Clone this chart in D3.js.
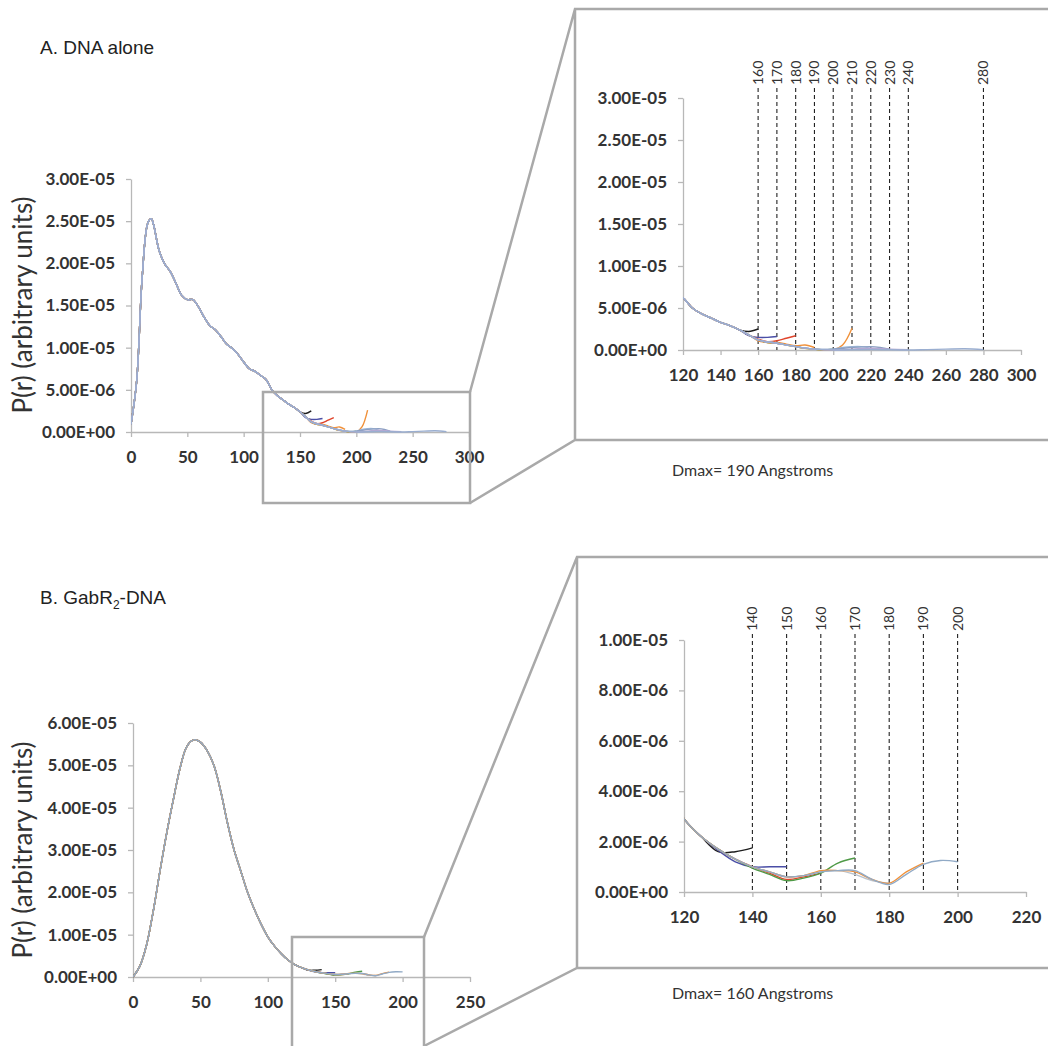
<!DOCTYPE html>
<html>
<head>
<meta charset="utf-8">
<script src="https://cdn.jsdelivr.net/npm/d3@7"></script>
<style>
  html, body { margin: 0; padding: 0; background: #fff; }
  svg { display: block; }
  .tick text { font-family: Lato, "Open Sans", sans-serif; font-weight: 700; fill: #333; }
</style>
</head>
<body>
<svg id="fig" width="1048" height="1046"></svg>
<script>
// ---------- Panel A: DNA alone ----------
// Shared P(r) profile (units of 1e-6) for r = 0..150 Å
const rA = [0, 5, 10, 15, 18, 20, 25, 30, 35, 40, 45, 50, 55, 60, 65, 70, 75, 80, 85, 90, 95, 100, 105, 110, 115, 120, 125, 130, 135, 140, 145, 150];
const pA = [0.9, 6.0, 18.5, 24.8, 25.3, 24.6, 21.5, 19.9, 19.0, 17.6, 16.2, 15.7, 15.7, 14.8, 13.6, 12.6, 12.1, 11.3, 10.4, 9.9, 9.2, 8.3, 7.5, 7.2, 6.7, 6.2, 5.0, 4.3, 3.8, 3.3, 2.9, 2.4];

// Tails of each fit beyond 150 Å, keyed by Dmax
const dmaxA = [160, 170, 180, 190, 200, 210, 220, 230, 240, 280];
const colorsA = ["#1e1e1e", "#4a4ea6", "#e0452c", "#f0913a", "#5f9e4c", "#f0913a", "#9fb9da", "#8b9fc2", "#b3a9d3", "#9aaed0"];
const tailRA = [
  [155, 160],
  [155, 160, 165, 170],
  [155, 160, 165, 170, 175, 180],
  [155, 160, 165, 170, 175, 180, 185, 190],
  [155, 160, 165, 170, 175, 180, 185, 190, 195, 200],
  [155, 160, 165, 170, 175, 180, 185, 190, 195, 200, 205, 210],
  [155, 160, 170, 180, 190, 200, 205, 210, 215, 220],
  [155, 160, 170, 180, 190, 200, 210, 220, 225, 230],
  [155, 160, 170, 180, 190, 200, 210, 220, 230, 240],
  [155, 160, 170, 180, 190, 200, 220, 240, 250, 260, 270, 280]
];
const tailPA = [
  [2.2, 2.5],
  [1.7, 1.5, 1.5, 1.6],
  [1.8, 1.3, 1.0, 1.1, 1.4, 1.7],
  [1.8, 1.1, 0.9, 0.9, 0.7, 0.5, 0.6, 0.3],
  [1.8, 1.2, 0.9, 0.8, 0.6, 0.4, 0.2, 0.1, 0.0, 0.1],
  [1.8, 1.2, 0.9, 0.8, 0.6, 0.4, 0.2, 0.1, 0.0, 0.0, 0.6, 2.6],
  [1.8, 1.2, 0.8, 0.4, 0.1, 0.1, 0.3, 0.4, 0.4, 0.2],
  [1.8, 1.2, 0.8, 0.4, 0.1, 0.1, 0.3, 0.4, 0.3, 0.1],
  [1.8, 1.2, 0.8, 0.4, 0.1, 0.0, 0.1, 0.2, 0.1, 0.05],
  [1.8, 1.2, 0.8, 0.4, 0.1, 0.0, 0.05, 0.0, 0.05, 0.1, 0.15, 0.05]
];
const yTicksA = [0, 5e-6, 1e-5, 1.5e-5, 2e-5, 2.5e-5, 3e-5];
const xTicksA = [0, 50, 100, 150, 200, 250, 300];
const xTicksAZoom = [120, 140, 160, 180, 200, 220, 240, 260, 280, 300];

// ---------- Panel B: GabR2-DNA ----------
const rB = [0, 5, 10, 15, 20, 25, 30, 35, 40, 45, 50, 55, 60, 65, 70, 75, 80, 85, 90, 95, 100, 105, 110, 115, 120, 125];
const pB = [0, 2.5, 7.5, 15.5, 25.0, 34.0, 42.0, 49.5, 54.5, 56.0, 55.5, 53.5, 50.0, 44.0, 36.5, 30.0, 25.0, 20.0, 16.0, 12.5, 9.5, 7.3, 5.5, 4.0, 2.9, 2.2];
const dmaxB = [140, 150, 160, 170, 180, 190, 200];
const colorsB = ["#1e1e1e", "#4a4ea6", "#e0452c", "#4f9a47", "#b9c3cf", "#f0913a", "#91aac6"];
const tailRB = [
  [130, 135, 140],
  [130, 135, 140, 145, 150],
  [130, 135, 140, 145, 150, 155, 160],
  [130, 135, 140, 145, 150, 155, 160, 165, 170],
  [130, 135, 140, 145, 150, 155, 160, 165, 170, 175, 180],
  [130, 135, 140, 145, 150, 155, 160, 165, 170, 175, 180, 185, 190],
  [130, 135, 140, 145, 150, 155, 160, 165, 170, 175, 180, 185, 190, 195, 200]
];
const tailPB = [
  [1.6, 1.6, 1.75],
  [1.65, 1.2, 1.0, 1.0, 1.0],
  [1.7, 1.3, 1.0, 0.75, 0.5, 0.6, 0.75],
  [1.7, 1.3, 0.95, 0.7, 0.45, 0.55, 0.75, 1.15, 1.35],
  [1.7, 1.3, 1.0, 0.8, 0.6, 0.65, 0.8, 0.85, 0.7, 0.45, 0.35],
  [1.7, 1.3, 1.0, 0.8, 0.6, 0.65, 0.85, 0.85, 0.8, 0.5, 0.35, 0.8, 1.15],
  [1.7, 1.3, 1.0, 0.8, 0.6, 0.65, 0.8, 0.85, 0.85, 0.5, 0.3, 0.7, 1.1, 1.25, 1.2]
];
const yTicksB = [0, 1e-5, 2e-5, 3e-5, 4e-5, 5e-5, 6e-5];
const xTicksB = [0, 50, 100, 150, 200, 250];
const yTicksBZoom = [0, 2e-6, 4e-6, 6e-6, 8e-6, 1e-5];
const xTicksBZoom = [120, 140, 160, 180, 200, 220];

const svg = d3.select("#fig");
const FRAME = "#a9a9a9";
const AXIS = "#b8b8b8";
const FONT = "Lato, 'Open Sans', sans-serif";
const fmtE = v => {
  if (v === 0) return "0.00E+00";
  const e = Math.floor(Math.log10(v) + 1e-9);
  const m = v / Math.pow(10, e);
  return m.toFixed(2) + "E" + (e < 0 ? "-" : "+") + String(Math.abs(e)).padStart(2, "0");
};

// Build every fitted series from the shared profile plus its own tail
function buildSeries(r, p, tailsR, tailsP) {
  return tailsR.map((tr, i) => {
    const pts = r.map((x, j) => ({ r: x, p: p[j] * 1e-6 }));
    tr.forEach((x, j) => pts.push({ r: x, p: tailsP[i][j] * 1e-6 }));
    return pts;
  });
}
const seriesA = buildSeries(rA, pA, tailRA, tailPA);
const seriesB = buildSeries(rB, pB, tailRB, tailPB);

// Draws a pair of axes with the curves clipped to the x-domain
function drawChart(g, opt) {
  const x = d3.scaleLinear().domain(opt.xDomain).range(opt.xRange);
  const y = d3.scaleLinear().domain(opt.yDomain).range(opt.yRange);

  const clipId = "clip" + opt.id;
  g.append("clipPath").attr("id", clipId).append("rect")
    .attr("x", opt.xRange[0]).attr("y", opt.yRange[1] - 20)
    .attr("width", opt.xRange[1] - opt.xRange[0] + 2)
    .attr("height", opt.yRange[0] - opt.yRange[1] + 22);

  const yAxis = g.append("g").attr("transform", `translate(${opt.xRange[0]},0)`)
    .call(d3.axisLeft(y).tickValues(opt.yTicks).tickFormat(fmtE).tickSize(5).tickSizeOuter(0));
  const xAxis = g.append("g").attr("transform", `translate(0,${opt.yRange[0]})`)
    .call(d3.axisBottom(x).tickValues(opt.xTicks).tickFormat(d3.format("d")).tickSize(5).tickSizeOuter(0));
  [yAxis, xAxis].forEach(a => {
    a.select(".domain").attr("stroke", AXIS).attr("stroke-width", 1.3);
    a.selectAll(".tick line").attr("stroke", AXIS).attr("stroke-width", 1.3);
    a.selectAll(".tick text").attr("font-size", 17);
  });
  yAxis.selectAll(".tick text").attr("x", -16);
  xAxis.selectAll(".tick text").attr("y", 19);

  // Dmax markers
  if (opt.markers) {
    const m = g.append("g");
    opt.markers.forEach(v => {
      m.append("line").attr("x1", x(v)).attr("x2", x(v))
        .attr("y1", opt.markerTop).attr("y2", opt.yRange[0])
        .attr("stroke", "#222").attr("stroke-width", 1.1).attr("stroke-dasharray", "4,3");
      m.append("text").attr("transform", `translate(${x(v) + 5},${opt.markerTop - 3}) rotate(-90)`)
        .attr("font-family", FONT).attr("font-size", 14)
        .attr("fill", "#333").text(v);
    });
  }

  const line = d3.line().x(d => x(d.r)).y(d => y(d.p)).curve(d3.curveCatmullRom.alpha(0.5));
  const lines = g.append("g").attr("clip-path", `url(#${clipId})`);
  opt.series.forEach((s, i) => {
    const pts = s.filter(d => d.r >= opt.xDomain[0] - 10);
    lines.append("path").datum(pts).attr("d", line)
      .attr("fill", "none").attr("stroke", opt.colors[i]).attr("stroke-width", 1.4)
      .attr("stroke-linejoin", "round");
  });
  return { x, y };
}

// ---- Panel A ----
svg.append("text").attr("x", 40).attr("y", 54)
  .attr("font-family", "'Liberation Sans', Arial, sans-serif").attr("font-size", 19).attr("fill", "#222")
  .text("A. DNA alone");

drawChart(svg.append("g"), {
  id: "A", xDomain: [0, 300], xRange: [131, 469], yDomain: [0, 3e-5], yRange: [432, 179],
  yTicks: yTicksA, xTicks: xTicksA, series: seriesA, colors: colorsA
});
svg.append("text").attr("transform", "translate(32,305) rotate(-90)").attr("text-anchor", "middle")
  .attr("font-family", FONT).attr("font-size", 26).attr("fill", "#333")
  .text("P(r) (arbitrary units)");

// zoom box and connectors
svg.append("rect").attr("x", 263).attr("y", 392).attr("width", 207).attr("height", 111)
  .attr("fill", "none").attr("stroke", FRAME).attr("stroke-width", 2.5);
svg.append("path").attr("d", "M470,392 L575,9 L1060,9 M470,503 L575,440 L1060,440 M575,9 L575,440")
  .attr("fill", "none").attr("stroke", FRAME).attr("stroke-width", 2.5);

drawChart(svg.append("g"), {
  id: "AZ", xDomain: [120, 300], xRange: [683, 1021], yDomain: [0, 3e-5], yRange: [350, 98],
  yTicks: yTicksA, xTicks: xTicksAZoom, series: seriesA, colors: colorsA,
  markers: dmaxA, markerTop: 88
});
svg.append("text").attr("x", 672).attr("y", 476)
  .attr("font-family", FONT).attr("font-size", 16).attr("fill", "#333")
  .text("Dmax= 190 Angstroms");

// ---- Panel B ----
const tB = svg.append("text").attr("x", 40).attr("y", 604)
  .attr("font-family", "'Liberation Sans', Arial, sans-serif").attr("font-size", 19).attr("fill", "#222");
tB.append("tspan").text("B. GabR");
tB.append("tspan").attr("font-size", 12).attr("dy", 5).text("2");
tB.append("tspan").attr("dy", -5).text("-DNA");

drawChart(svg.append("g"), {
  id: "B", xDomain: [0, 250], xRange: [133, 470], yDomain: [0, 6e-5], yRange: [977, 723],
  yTicks: yTicksB, xTicks: xTicksB, series: seriesB, colors: colorsB
});
svg.append("text").attr("transform", "translate(32,850) rotate(-90)").attr("text-anchor", "middle")
  .attr("font-family", FONT).attr("font-size", 26).attr("fill", "#333")
  .text("P(r) (arbitrary units)");

svg.append("rect").attr("x", 292).attr("y", 937).attr("width", 132).attr("height", 130)
  .attr("fill", "none").attr("stroke", FRAME).attr("stroke-width", 2.5);
svg.append("path").attr("d", "M424,937 L577,557 L1060,557 M424,1046 L577,968 L1060,968 M577,557 L577,968")
  .attr("fill", "none").attr("stroke", FRAME).attr("stroke-width", 2.5);

drawChart(svg.append("g"), {
  id: "BZ", xDomain: [120, 220], xRange: [684, 1026], yDomain: [0, 1e-5], yRange: [892, 640],
  yTicks: yTicksBZoom, xTicks: xTicksBZoom, series: seriesB, colors: colorsB,
  markers: dmaxB, markerTop: 634
});
svg.append("text").attr("x", 672).attr("y", 999)
  .attr("font-family", FONT).attr("font-size", 16).attr("fill", "#333")
  .text("Dmax= 160 Angstroms");
</script>
</body>
</html>
